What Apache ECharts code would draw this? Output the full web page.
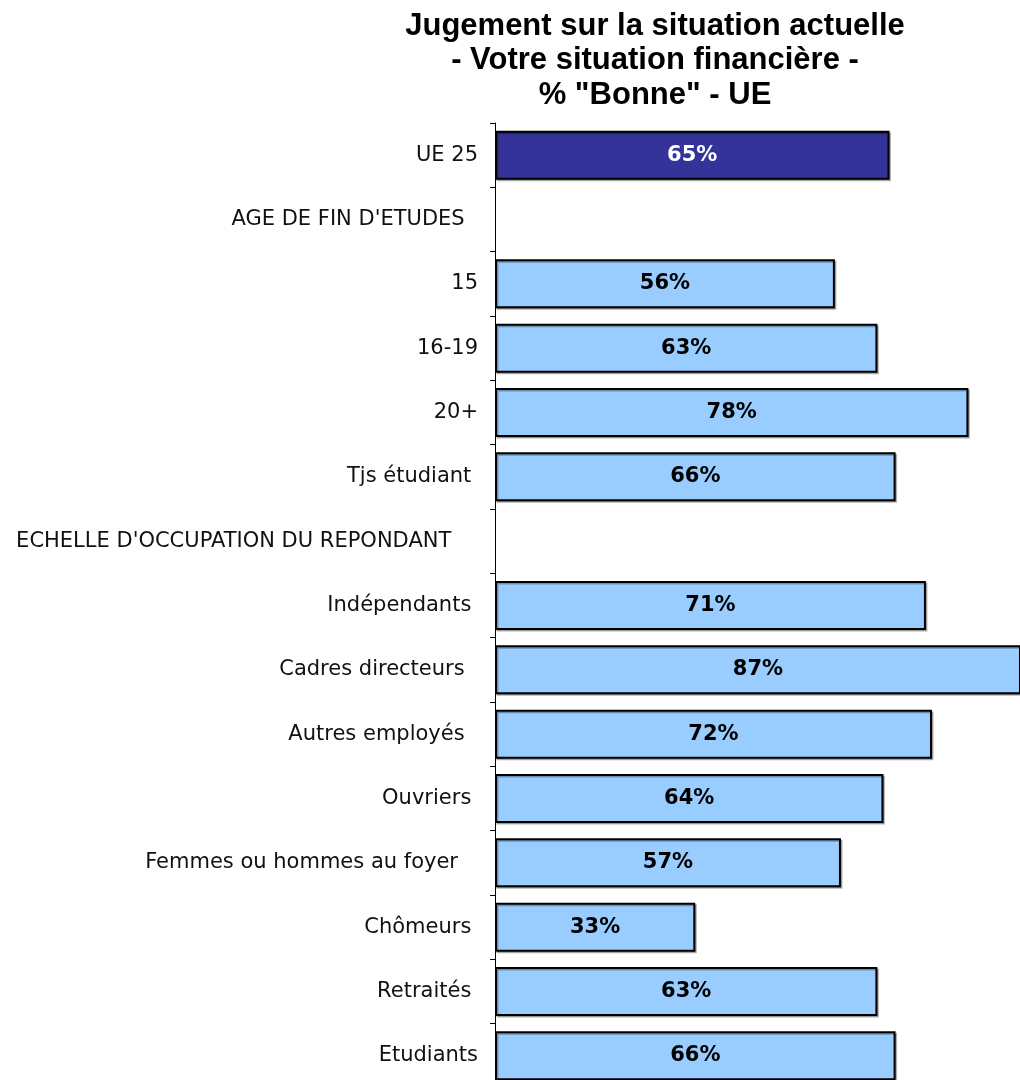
<!DOCTYPE html>
<html>
<head>
<meta charset="utf-8">
<script src="https://cdn.jsdelivr.net/npm/echarts@6/dist/echarts.min.js"></script>
<style>
  html, body { margin: 0; padding: 0; background: #fff; }
  #main { width: 1020px; height: 1080px; }
</style>
</head>
<body>
<div id="main"></div>
<script>
var chart = echarts.init(document.getElementById('main'));

// categories (trailing spaces kept as in the source labels)
var categories = [
    'UE 25',
    'AGE DE FIN D\'ETUDES  ',
    '15',
    '16-19',
    '20+',
    'Tjs étudiant ',
    'ECHELLE D\'OCCUPATION DU REPONDANT    ',
    'Indépendants ',
    'Cadres directeurs  ',
    'Autres employés  ',
    'Ouvriers ',
    'Femmes ou hommes au foyer   ',
    'Chômeurs ',
    'Retraités ',
    'Etudiants'
];
// % "Bonne" (section headers have no value)
var values = [65, null, 56, 63, 78, 66, null, 71, 87, 72, 64, 57, 33, 63, 66];

var seriesData = values.map(function (v, i) {
    if (v === null) return '-';
    if (i === 0) {
        return {
            value: v,
            itemStyle: { color: '#333399' },
            label: { color: '#ffffff' }
        };
    }
    return v;
});

option = {
    animation: false,
    backgroundColor: '#ffffff',
    title: {
        text: 'Jugement sur la situation actuelle\n- Votre situation financière -\n% "Bonne" - UE',
        left: 650,
        top: 4,
        textAlign: 'center',
        textStyle: {
            fontFamily: 'Liberation Sans, Arial, sans-serif',
            fontSize: 31,
            fontWeight: 'bold',
            color: '#000000',
            lineHeight: 34.5
        }
    },
    grid: {
        left: 495,
        top: 123,
        width: 525,
        height: 965,
        containLabel: false,
        outerBoundsMode: 'none'
    },
    xAxis: {
        type: 'value',
        min: 0,
        max: 86.5,
        show: false
    },
    yAxis: {
        type: 'category',
        inverse: true,
        data: categories,
        axisLine: { show: true, lineStyle: { color: '#000000', width: 1 } },
        axisTick: { show: true, length: 5, lineStyle: { color: '#000000' } },
        axisLabel: {
            margin: 17,
            fontFamily: 'DejaVu Sans, Verdana, sans-serif',
            fontSize: 21,
            color: '#111111'
        },
        splitLine: { show: false }
    },
    series: [{
        name: '% Bonne',
        type: 'bar',
        barWidth: 49,
        data: seriesData,
        itemStyle: {
            color: '#99ccff',
            borderColor: '#000000',
            borderWidth: 2,
            shadowColor: 'rgba(0,0,0,0.3)',
            shadowOffsetX: 1.5,
            shadowOffsetY: 1.5,
            shadowBlur: 0
        },
        label: {
            show: true,
            position: 'inside',
            formatter: '{c}%',
            fontFamily: 'DejaVu Sans, Verdana, sans-serif',
            fontSize: 21,
            fontWeight: 'bold',
            color: '#000000'
        }
    }]
};
chart.setOption(option);
</script>
</body>
</html>
